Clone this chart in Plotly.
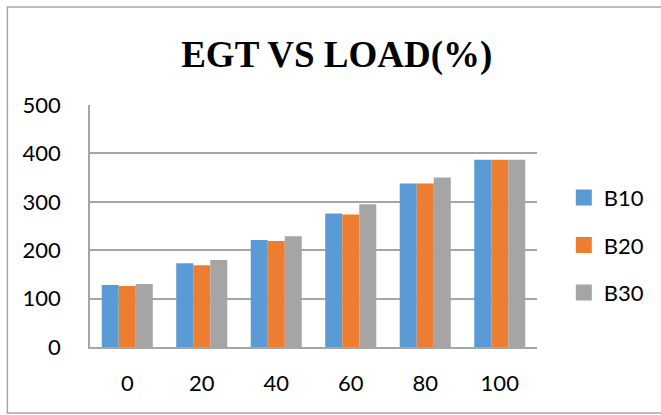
import plotly.graph_objects as go

# Exhaust gas temperature against engine load for three blends
loads = ["0", "20", "40", "60", "80", "100"]
b10 = [128, 173, 221, 276, 338, 387]
b20 = [126, 169, 219, 274, 338, 387]
b30 = [130, 180, 229, 295, 350, 387]
series_names = ["B10", "B20", "B30"]
colors = ["#5b9bd5", "#ed7d31", "#a5a5a5"]

fig = go.Figure()

for name, vals, col in zip(series_names, [b10, b20, b30], colors):
    fig.add_trace(go.Bar(
        x=loads, y=vals, name=name, marker=dict(color=col, line=dict(width=0)),
        showlegend=False,
    ))

# legend entries with larger square swatches
for name, col in zip(series_names, colors):
    fig.add_trace(go.Scatter(
        x=[None], y=[None], mode="markers", name=name, legendgroup=name,
        marker=dict(symbol="square", size=16, color=col),
    ))

grid = "#a6a6a6"
fig.update_layout(
    width=661, height=415,
    margin=dict(l=90, r=122, t=105, b=68),
    paper_bgcolor="white", plot_bgcolor="white",
    barmode="group", bargap=0.315, bargroupgap=0,
    title=dict(
        text="<b>EGT VS LOAD(%)</b>",
        font=dict(family="Liberation Serif", size=37, color="black"),
        x=0.552, xref="paper", xanchor="center",
        y=0.87, yref="container", yanchor="middle",
    ),
    font=dict(family="Lato", size=22, color="black"),
    legend=dict(
        x=1.06, xanchor="left", y=0.421, yanchor="middle",
        font=dict(family="Lato", size=22, color="black"),
        tracegroupgap=16, bgcolor="rgba(0,0,0,0)",
    ),
    shapes=[dict(
        type="rect", xref="paper", yref="paper",
        x0=-83 / 449, x1=575 / 449, y0=-66 / 242, y1=340 / 242,
        line=dict(color=grid, width=1.5), fillcolor="rgba(0,0,0,0)",
        layer="below",
    )],
)

fig.update_xaxes(
    showgrid=False, showline=True, linecolor=grid, linewidth=1.5,
    ticks="", ticklabelstandoff=16, tickfont=dict(size=22),
)
fig.update_yaxes(
    range=[0, 500], dtick=100, tick0=0,
    showgrid=True, gridcolor=grid, gridwidth=1.5,
    showline=True, linecolor=grid, linewidth=1.5,
    zeroline=False, ticks="", ticklabelstandoff=23, tickfont=dict(size=22),
)

fig.write_html("out.html")
